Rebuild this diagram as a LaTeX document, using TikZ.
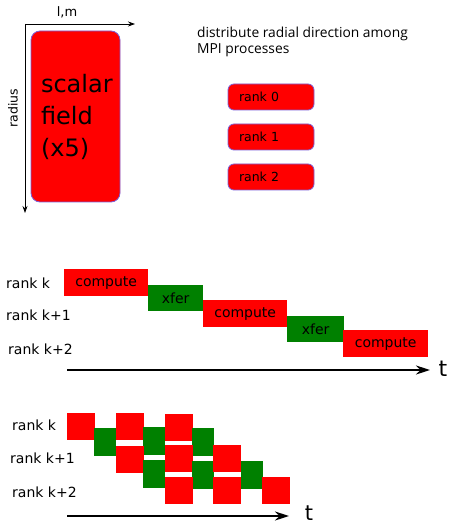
\documentclass[tikz,border=0pt]{standalone}
\usepackage{fontspec}
\setmainfont{DejaVu Sans}
\newfontfamily\notefont{Open Sans}
\usetikzlibrary{arrows.meta}

\definecolor{boxred}{RGB}{255,0,0}
\definecolor{boxgreen}{RGB}{0,128,0}
\definecolor{boxedge}{RGB}{125,95,215}

\tikzset{
    txt/.style={font=\fontsize{14}{16}\selectfont, inner sep=0pt},
    rankbox/.style={fill=boxred, draw=boxedge, line width=0.8pt, rounded corners=6pt,
        minimum width=86pt, minimum height=26pt, text width=64pt, inner xsep=11pt,
        align=left, font=\fontsize{12.5}{14}\selectfont},
    computebox/.style={fill=boxred, anchor=north west, minimum width=84pt, minimum height=27pt,
        inner sep=0pt, font=\fontsize{14}{16}\selectfont},
    xferbox/.style={fill=boxgreen, anchor=north west, minimum width=55pt, minimum height=26pt,
        inner sep=0pt, font=\fontsize{14}{16}\selectfont},
    redsq/.style={fill=boxred, anchor=north west, minimum width=28pt, minimum height=27pt, inner sep=0pt},
    greensq/.style={fill=boxgreen, anchor=north west, minimum width=22pt, minimum height=28pt, inner sep=0pt},
    axis/.style={line width=0.8pt, -{Stealth[length=7pt,width=5pt]}},
    timeline/.style={line width=2pt, -{Stealth[length=14pt,width=9pt]}},
}

\begin{document}
\begin{tikzpicture}[x=1pt,y=-1pt]
    \useasboundingbox (0,0) rectangle (449,526);

    \node[fill=boxred, draw=boxedge, line width=0.8pt, rounded corners=9pt,
        minimum width=89pt, minimum height=171pt, text width=69pt, inner xsep=10pt,
        align=left, font=\fontsize{24}{32}\selectfont] (field) at (75.5,116.5) {scalar\\field\\(x5)};

    \coordinate (o) at (25,24);
    \coordinate (lmend) at (135,24);
    \coordinate (radend) at (25,213);
    \draw[axis] (o) -- (lmend);
    \draw[axis] (o) -- (radend);
    \node[txt, font=\fontsize{13}{15}\selectfont] (lm) at (67,12) {l,m};
    \node[txt, rotate=90, font=\fontsize{12.5}{14}\selectfont] (radius) at (13,108) {radius};

    \node[txt, anchor=north west, align=left, font=\notefont\fontsize{13.8}{16}\selectfont] (note) at (197,27)
        {distribute radial direction among\\MPI processes};

    \node[rankbox] (rank0) at (271,97) {rank 0};
    \node[rankbox] (rank1) at (271,137) {rank 1};
    \node[rankbox] (rank2) at (271,177) {rank 2};

    \node[txt, anchor=west] (ka) at (6,283) {rank k};
    \node[txt, anchor=west] (kb) at (6,315) {rank k+1};
    \node[txt, anchor=west] (kc) at (8,349) {rank k+2};

    \node[computebox] (c1) at (64,269) {compute};
    \node[xferbox] (x1) at (148,285) {xfer};
    \node[computebox] (c2) at (203,300) {compute};
    \node[xferbox, minimum width=57pt] (x2) at (287,316) {xfer};
    \node[computebox, minimum width=85pt] (c3) at (343,330) {compute};

    \coordinate (ta) at (67,370);
    \coordinate (tb) at (430,370);
    \draw[timeline] (ta) -- (tb);
    \node[txt, font=\fontsize{22}{24}\selectfont] (t1) at (443,369) {t};

    \node[txt, anchor=west] (pa) at (12,425) {rank k};
    \node[txt, anchor=west] (pb) at (10,458) {rank k+1};
    \node[txt, anchor=west] (pc) at (12,492) {rank k+2};

    \node[redsq] (a1) at (67,413) {};
    \node[greensq] (ga1) at (94,428) {};
    \node[redsq] (a2) at (116,413) {};
    \node[greensq] (ga2) at (143,427) {};
    \node[redsq] (a3) at (165,414) {};
    \node[greensq] (ga3) at (192,428) {};

    \node[redsq] (b1) at (116,446) {};
    \node[greensq] (gb1) at (143,460) {};
    \node[redsq] (b2) at (165,445) {};
    \node[greensq] (gb2) at (192,461) {};
    \node[redsq] (b3) at (213,445) {};
    \node[greensq] (gb3) at (241,461) {};

    \node[redsq] (c1r) at (165,477) {};
    \node[redsq] (c2r) at (213,477) {};
    \node[redsq] (c3r) at (262,477) {};

    \coordinate (ua) at (67,516);
    \coordinate (ub) at (289,516);
    \draw[timeline] (ua) -- (ub);
    \node[txt, font=\fontsize{21}{23}\selectfont] (t2) at (309,513) {t};
\end{tikzpicture}
\end{document}
